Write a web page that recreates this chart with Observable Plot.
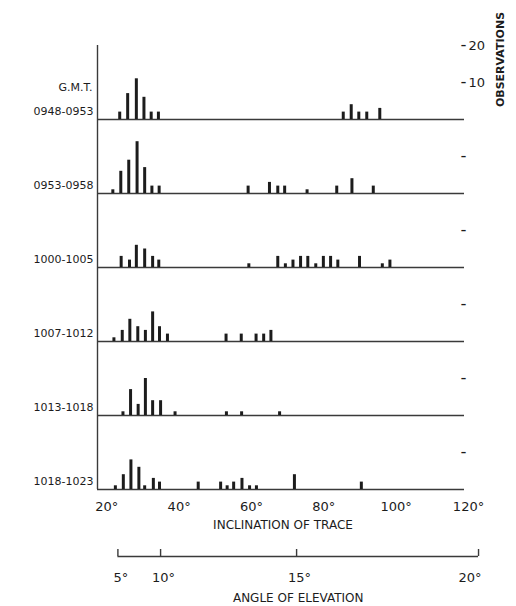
<!DOCTYPE html>
<html><head><meta charset="utf-8">
<script src="https://cdn.jsdelivr.net/npm/d3@7"></script>
<script src="https://cdn.jsdelivr.net/npm/@observablehq/plot@0.6"></script>
<style>
body{margin:0;background:#fff;}
#chart{width:516px;background:#fff;}
#chart svg{display:block;}
</style></head><body><div id="chart"></div>
<script>
// Time periods (G.M.T.)
const periods = ["0948-0953", "0953-0958", "1000-1005", "1007-1012", "1013-1018", "1018-1023"];

// Inclination of trace (degrees) and number of observations for each period
const incl1 = [24.4, 26.6, 29.0, 31.1, 33.1, 35.1, 86.2, 88.4, 90.5, 92.7, 96.3];
const obs1  = [2, 7, 11, 6, 2, 2, 2, 4, 2, 2, 3];

const incl2 = [22.5, 24.7, 26.9, 29.2, 31.3, 33.3, 35.3, 59.9, 65.8, 68.1, 70.0, 76.2, 84.4, 88.6, 94.5];
const obs2  = [1, 6, 9, 14, 7, 2, 2, 2, 3, 2, 2, 1, 2, 4, 2];

const incl3 = [24.8, 27.1, 29.0, 31.3, 33.5, 35.2, 60.1, 68.1, 70.2, 72.3, 74.4, 76.4, 78.6, 80.7, 82.7, 84.7, 90.7, 97.0, 99.1];
const obs3  = [3, 2, 6, 5, 3, 2, 1, 3, 1, 2, 3, 3, 1, 3, 3, 2, 3, 1, 2];

const incl4 = [22.8, 25.1, 27.2, 29.4, 31.5, 33.5, 35.4, 37.6, 53.8, 58.0, 62.1, 64.2, 66.2];
const obs4  = [1, 3, 6, 4, 3, 8, 4, 2, 2, 2, 2, 2, 3];

const incl5 = [25.3, 27.4, 29.5, 31.5, 33.5, 35.7, 39.7, 53.9, 58.1, 68.6];
const obs5  = [1, 7, 3, 10, 4, 4, 1, 1, 1, 1];

const incl6 = [23.2, 25.4, 27.5, 29.7, 31.3, 33.7, 35.4, 46.1, 52.3, 54.1, 55.9, 58.2, 60.3, 62.2, 72.7, 91.2];
const obs6  = [1, 4, 8, 6, 1, 3, 2, 2, 2, 1, 2, 3, 1, 1, 4, 2];

// Axis ticks
const inclTicks = [20, 40, 60, 80, 100, 120];
const obsTicks = [10, 20];
const elevTicks = [5, 10, 15, 20];            // angle of elevation
const elevAtIncl = [23.9, 35.7, 73.3, 123.6]; // corresponding inclination of trace

// Tables built from the arrays
const series = [[incl1, obs1], [incl2, obs2], [incl3, obs3], [incl4, obs4], [incl5, obs5], [incl6, obs6]];
const bars = series.flatMap(([xs, ys], i) => xs.map((x, j) => ({period: periods[i], incl: x, obs: ys[j]})));
const rightTicks = periods.flatMap((p, i) => (i === 0 ? obsTicks : [obsTicks[0]]).map(v => ({period: p, v, label: i === 0 ? String(v) : ""})));
const elevRows = elevAtIncl.map((x, i) => ({x, label: elevTicks[i] + "°"}));

const xDomain = [18.26, 119.72];
const W = 516, ML = 97, MR = 52;
const font = "'DejaVu Sans', sans-serif";
const ink = "#1c1c1c";
const line = "#3a3a3a";

const main = Plot.plot({
  width: W, height: 540,
  marginLeft: ML, marginRight: MR, marginTop: 44, marginBottom: 50.8,
  style: {fontFamily: font, background: "#fff", overflow: "visible", color: ink},
  x: {domain: xDomain},
  y: {domain: [0, 20], axis: null},
  fy: {domain: periods, axis: null, padding: 0},
  marks: [
    Plot.ruleY(periods, {fy: d => d, y: 0, stroke: line, strokeWidth: 1.4}),
    Plot.ruleX(periods, {fy: d => d, x: xDomain[0], y1: 0, y2: 20, stroke: line, strokeWidth: 1.4}),
    Plot.ruleX(bars, {fy: "period", x: "incl", y1: 0, y2: "obs", stroke: ink, strokeWidth: 3}),
    Plot.text(rightTicks, {fy: "period", y: "v", text: () => "–", frameAnchor: "right", textAnchor: "middle", dx: -1, fontSize: 11, fontWeight: "bold", fill: ink}),
    Plot.text(rightTicks.filter(d => d.label), {fy: "period", y: "v", text: "label", frameAnchor: "right", textAnchor: "start", dx: 4, fontSize: 13, fill: ink}),
    Plot.text(periods, {fy: d => d, text: d => d, frameAnchor: "bottom-left", textAnchor: "end", dx: -4, dy: -5, fontSize: 11, fill: ink}),
    Plot.text([periods[0]], {fy: d => d, text: () => "G.M.T.", frameAnchor: "bottom-left", textAnchor: "middle", dx: -22, dy: -29, fontSize: 11, fill: ink}),
    Plot.text([periods[0]], {fy: d => d, text: () => "OBSERVATIONS", frameAnchor: "top-right", textAnchor: "middle", lineAnchor: "middle", rotate: -90, dx: 36, dy: 14, fontSize: 11, fontWeight: "bold", fill: ink, style: "letter-spacing:1px"}),
    Plot.axisX(inclTicks, {tickSize: 0, tickPadding: 12, tickFormat: d => d + "°", dx: 3, fontSize: 13, label: null, fill: ink}),
    Plot.text([periods[periods.length - 1]], {fy: d => d, text: () => "INCLINATION OF TRACE", frameAnchor: "bottom", dx: 2, dy: 39, fontSize: 12, fill: ink, style: "letter-spacing:1.5px"})
  ]
});

const elevInner = elevRows.slice(0, -1);
const elevLast = elevRows.slice(-1);

const elev = Plot.plot({
  width: W, height: 66,
  marginLeft: ML, marginRight: MR, marginTop: 0, marginBottom: 0,
  style: {fontFamily: font, background: "#fff", overflow: "visible", color: ink},
  x: {domain: xDomain, axis: null},
  y: {domain: [0, 1], range: [16, 9], axis: null},
  marks: [
    Plot.ruleY([0], {x1: elevAtIncl[0], x2: elevAtIncl[elevAtIncl.length - 1], stroke: line, strokeWidth: 1.4}),
    Plot.ruleX(elevRows, {x: "x", y1: 0, y2: 1, stroke: line, strokeWidth: 1.4}),
    Plot.text(elevInner, {x: "x", y: 0, text: "label", dy: 21, dx: 3, fontSize: 13, fill: ink}),
    Plot.text(elevLast, {x: "x", y: 0, text: "label", dy: 21, dx: 3, textAnchor: "end", fontSize: 13, fill: ink}),
    Plot.text([elevRows], {x: d => (d[0].x + d[d.length - 1].x) / 2, y: 0, text: () => "ANGLE OF ELEVATION", dy: 42, fontSize: 12, fill: ink, style: "letter-spacing:1.7px"})
  ]
});

const host = document.getElementById("chart");
host.append(main, elev);
</script>
</body></html>
